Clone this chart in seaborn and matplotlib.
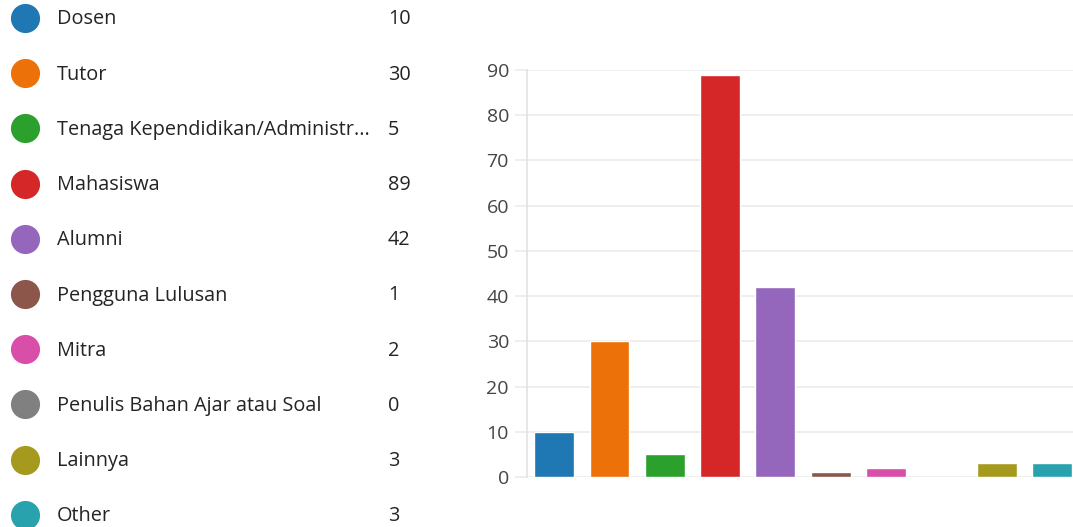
import seaborn as sns
import matplotlib.pyplot as plt

categories = ["Dosen", "Tutor", "Tenaga Kependidikan/Administr...", "Mahasiswa",
              "Alumni", "Pengguna Lulusan", "Mitra", "Penulis Bahan Ajar atau Soal",
              "Lainnya", "Other"]
counts = [10, 30, 5, 89, 42, 1, 2, 0, 3, 3]
colors = ["#1f77b4", "#ec7108", "#2ca02c", "#d62728", "#9467bd",
          "#8c564b", "#d94ea9", "#808080", "#a69a1e", "#28a3ad"]
y_ticks = [0, 10, 20, 30, 40, 50, 60, 70, 80, 90]

if __name__ == "__main__":
    sns.set_style("white")
    plt.rcParams['font.family'] = ['Open Sans', 'DejaVu Sans']

    W, H = 1073, 527
    fig = plt.figure(figsize=(W / 100, H / 100), dpi=100)

    # legend panel (pixel coordinates)
    lax = fig.add_axes([0, 0, 480 / W, 1])
    lax.set_xlim(0, 480)
    lax.set_ylim(H, 0)
    lax.axis("off")
    for i, (name, n, c) in enumerate(zip(categories, counts, colors)):
        y = 18 + i * 55.2
        lax.scatter([25], [y], s=440, color=c, linewidths=0)
        lax.text(57, y + 1.5, name, va="center", ha="left", fontsize=14.3, color="#252423")
        lax.text(388, y + 1.5, str(n), va="center", ha="left", fontsize=14.3, color="#252423")

    # bar chart
    ax = fig.add_axes([527 / W, (H - 477) / H, (W - 527) / W, 407 / H])
    sns.barplot(x=categories, y=counts, hue=categories, palette=colors,
                legend=False, width=0.72, saturation=1, ax=ax)
    ax.set_ylim(0, 90)
    ax.set_xlim(-0.49, 9.38)
    ax.set_yticks(y_ticks)
    ax.set_xticks([])
    ax.set_xlabel("")
    ax.set_ylabel("")
    ax.grid(axis="y", color="#ebebeb", linewidth=1.2)
    ax.set_axisbelow(True)
    for s in ["top", "right", "bottom"]:
        ax.spines[s].set_visible(False)
    ax.spines["left"].set_color("#e3e3e3")
    ax.spines["left"].set_linewidth(1.2)
    ax.tick_params(axis="y", length=9, width=1.2, color="#ebebeb",
                   labelsize=14, labelcolor="#444444", pad=4, left=True)

    fig.savefig("out.png", dpi=100)
